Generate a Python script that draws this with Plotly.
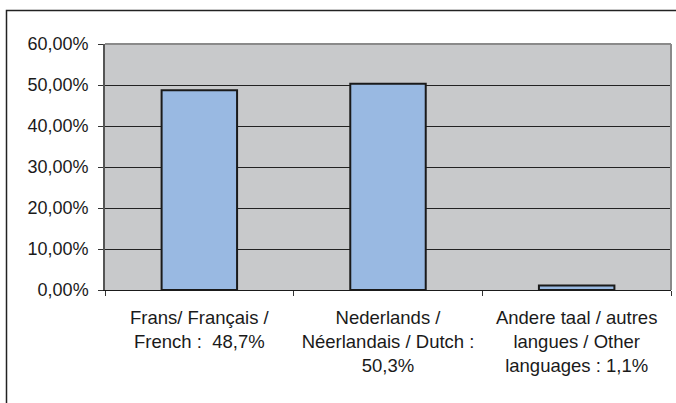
import plotly.graph_objects as go

categories = [
    "Frans/ Français /<br>French :  48,7%",
    "Nederlands /<br>Néerlandais / Dutch :<br>50,3%",
    "Andere taal / autres<br>langues / Other<br>languages : 1,1%",
]
values = [0.487, 0.503, 0.011]
y_ticks = [0, 0.1, 0.2, 0.3, 0.4, 0.5, 0.6]

W, H = 676, 403
ml, mr, mt, mb = 105, 5, 44, 113
pw = W - ml - mr
ph = H - mt - mb

fig = go.Figure()
fig.add_trace(go.Bar(
    x=categories, y=values, width=0.4,
    marker=dict(color="#99B9E2", line=dict(color="#1a1a1a", width=2)),
))

font = dict(family="Liberation Sans, Arial, sans-serif", size=17.5, color="#1a1a1a")

fig.update_layout(
    width=W, height=H,
    margin=dict(l=ml, r=mr, t=mt, b=mb),
    paper_bgcolor="white",
    plot_bgcolor="#C8C9CB",
    showlegend=False,
    separators=",.",
    font=font,
    xaxis=dict(
        type="category", range=[-0.5, 2.5],
        showline=True, linecolor="#1a1a1a", linewidth=1,
        ticks="outside", tickson="boundaries", ticklen=5, tickcolor="#333", tickwidth=1,
        showgrid=False, tickfont=dict(size=18.5),
        ticklabelstandoff=11,
    ),
    yaxis=dict(
        range=[0, 0.6], tickvals=y_ticks, tickformat=".2%",
        showline=True, linecolor="#555", linewidth=1.5,
        ticks="outside", ticklen=5, tickcolor="#333",
        showgrid=True, gridcolor="#222", gridwidth=1,
        zeroline=False, tickfont=dict(size=18),
        ticklabelstandoff=6,
    ),
    shapes=[
        dict(type="line", xref="paper", yref="paper", x0=0, x1=1, y0=1, y1=1,
             line=dict(color="#8a8a8a", width=2)),
        dict(type="line", xref="paper", yref="paper", x0=1, x1=1, y0=0, y1=1,
             line=dict(color="#8a8a8a", width=2)),
        dict(type="rect", xref="paper", yref="paper",
             x0=(6.5 - ml) / pw, x1=(W + 10 - ml) / pw,
             y0=(ph + mt - (H + 10)) / ph, y1=(ph + mt - 10.5) / ph,
             line=dict(color="#222", width=1.5), fillcolor="rgba(0,0,0,0)"),
    ],
)

fig.write_html(
    "out.html",
    config={"displayModeBar": False},
    post_script="document.body.style.margin='0';document.body.style.overflow='hidden';",
)
